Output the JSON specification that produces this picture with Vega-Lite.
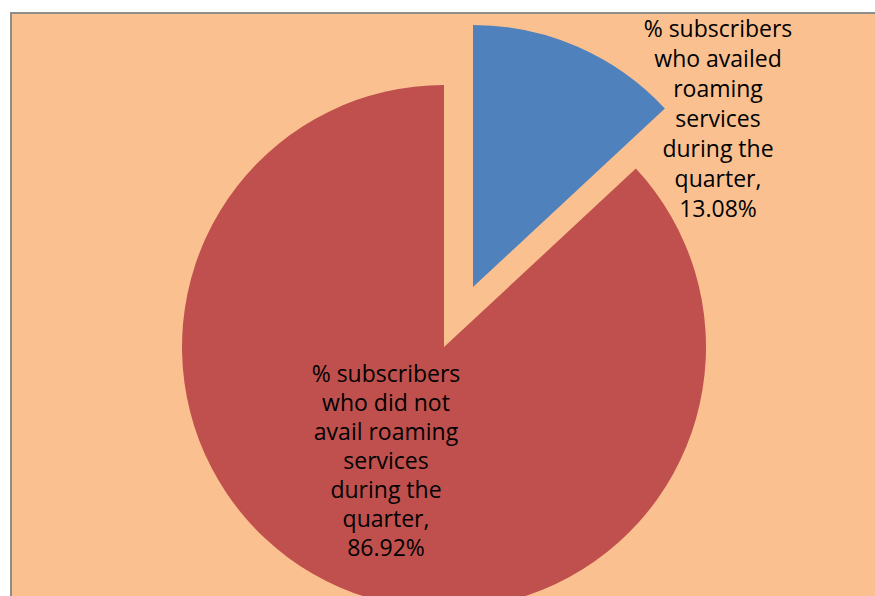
{
  "$schema": "https://vega.github.io/schema/vega-lite/v6.json",
  "width": 880,
  "height": 600,
  "autosize": "none",
  "padding": {"left": 11, "top": 13, "right": 0, "bottom": 0},
  "background": "#ffffff",
  "view": {"fill": "#FAC090", "stroke": "#8c8c8c", "strokeWidth": 2},
  "data": {
    "values": [
      {"label": "% subscribers who availed roaming services during the quarter", "lines": ["% subscribers", "who availed", "roaming", "services", "during the", "quarter,", "13.08%"], "pct": 13.08, "group": "availed"},
      {"label": "% subscribers who did not avail roaming services during the quarter", "lines": ["% subscribers", "who did not", "avail roaming", "services", "during the", "quarter,", "86.92%"], "pct": 86.92, "group": "not"}
    ]
  },
  "encoding": {
    "theta": {"field": "pct", "type": "quantitative", "stack": true},
    "order": {"field": "pct", "type": "quantitative", "sort": "ascending"}
  },
  "layer": [
    {
      "mark": {"type": "arc", "outerRadius": 262, "xOffset": -7, "yOffset": 34},
      "encoding": {
        "color": {"field": "group", "type": "nominal", "scale": {"domain": ["availed", "not"], "range": ["#4F81BD", "#C0504D"]}, "legend": null},
        "opacity": {"condition": {"test": "datum.group === 'availed'", "value": 0}, "value": 1}
      }
    },
    {
      "mark": {"type": "arc", "outerRadius": 262, "xOffset": 22, "yOffset": -26},
      "encoding": {
        "color": {"field": "group", "type": "nominal", "scale": {"domain": ["availed", "not"], "range": ["#4F81BD", "#C0504D"]}, "legend": null},
        "opacity": {"condition": {"test": "datum.group === 'not'", "value": 0}, "value": 1}
      }
    },
    {
      "mark": {"type": "text", "radius": 0, "dx": 267, "dy": -283, "font": "Open Sans", "fontSize": 23, "lineHeight": 30, "align": "center", "baseline": "middle", "color": "#000000"},
      "encoding": {
        "text": {"field": "lines"},
        "opacity": {"condition": {"test": "datum.group === 'not'", "value": 0}, "value": 1}
      }
    },
    {
      "mark": {"type": "text", "radius": 0, "dx": -65, "dy": 62, "font": "Open Sans", "fontSize": 23, "lineHeight": 29, "align": "center", "baseline": "middle", "color": "#000000"},
      "encoding": {
        "text": {"field": "lines"},
        "opacity": {"condition": {"test": "datum.group === 'availed'", "value": 0}, "value": 1}
      }
    }
  ]
}
